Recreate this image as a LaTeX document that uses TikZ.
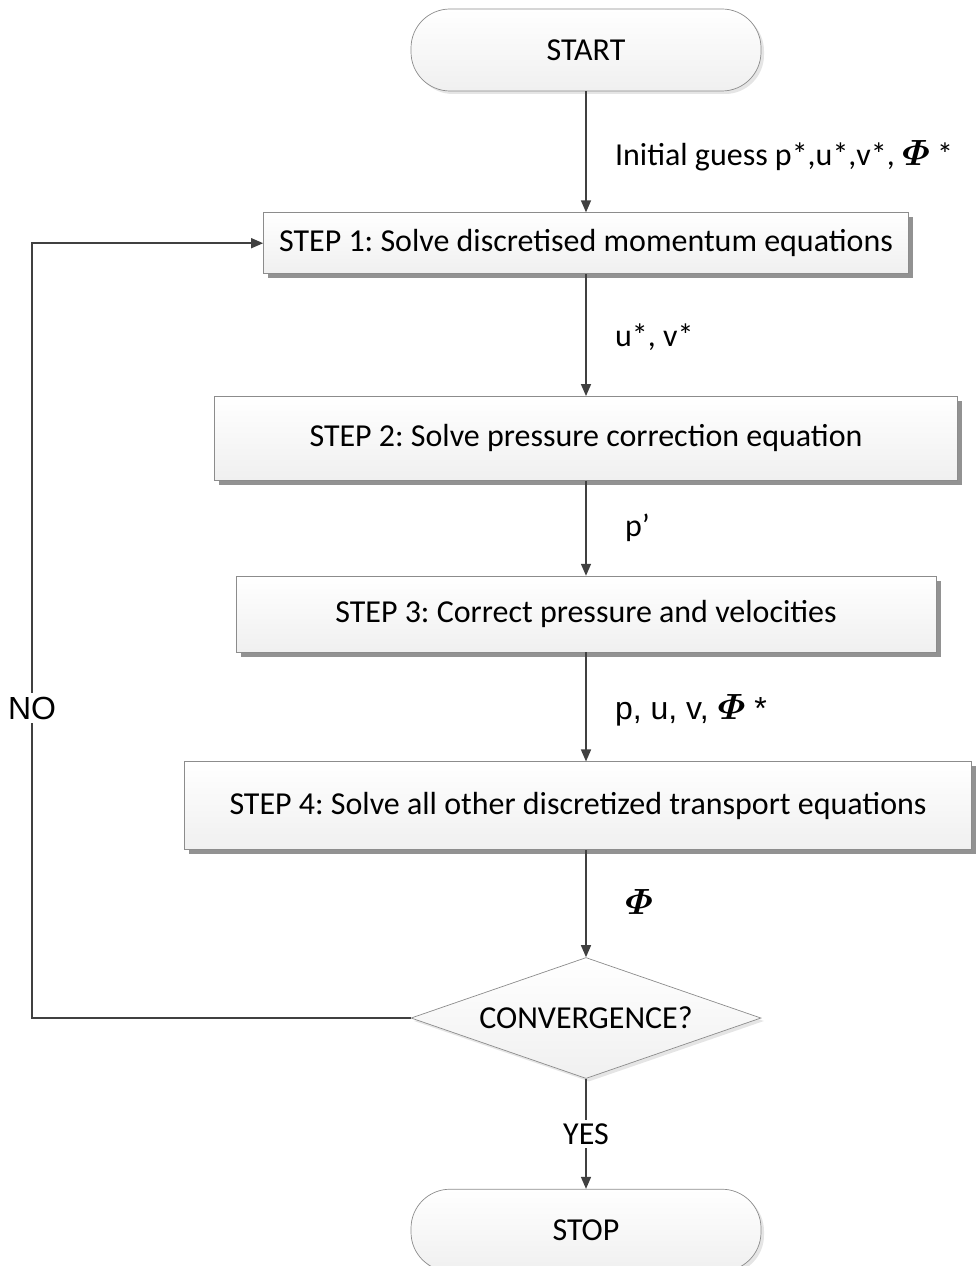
\documentclass[tikz,border=0pt]{standalone}
\usepackage{fontspec}
\usepackage{amsmath}
\setmainfont{Carlito}
\newfontfamily\arialfont{Liberation Sans}
\usetikzlibrary{shapes.geometric,arrows.meta,positioning,shadows}

\newcommand{\phisym}{{\fontsize{21}{21}\selectfont\boldmath$\varPhi$}}
\frenchspacing

\begin{document}
\begin{tikzpicture}[
    node distance=2cm,
    every node/.style={font=\fontsize{18.2}{21}\selectfont},
    terminal/.style={rectangle, draw=gray!90, rounded corners=0.78cm, minimum width=7cm, minimum height=1.64cm, top color=white, bottom color=gray!12, drop shadow={shadow xshift=0.06cm, shadow yshift=-0.06cm, fill=gray!40}},
    stage/.style={rectangle, draw=gray!90, top color=white, bottom color=gray!12, drop shadow={shadow xshift=0.09cm, shadow yshift=-0.09cm, fill=black!85}},
    decision/.style={diamond, draw=gray!90, aspect=2.9, inner sep=0pt, minimum width=7cm, minimum height=2.42cm, top color=white, bottom color=gray!12, drop shadow={shadow xshift=0.06cm, shadow yshift=-0.06cm, fill=gray!40}},
    arrow/.style={-{Triangle[length=0.24cm, width=0.2cm]}, draw=black!75, line width=0.85pt},
    lbl/.style={anchor=west, xshift=0.45cm},
    cut/.style={fill=white, inner sep=2pt}
]
\useasboundingbox (0,0) rectangle (19.5,-25.32);

% Start / stop
\node[terminal] (start) at (11.72,-1.0) {START};

% Steps of the loop
\node[stage, below=2.42cm of start, minimum width=12.9cm, minimum height=1.22cm] (step1) {STEP 1: Solve discretised momentum equations};
\node[stage, below=2.44cm of step1, minimum width=14.86cm, minimum height=1.68cm] (step2) {STEP 2: Solve pressure correction equation};
\node[stage, below=1.9cm of step2, minimum width=14cm, minimum height=1.52cm] (step3) {STEP 3: Correct pressure and velocities};
\node[stage, below=2.18cm of step3, xshift=-0.16cm, minimum width=15.74cm, minimum height=1.76cm] (step4) {STEP 4: Solve all other discretized transport equations};

% Convergence check
\node[decision, below=2.14cm of step4, xshift=0.16cm] (conv) {CONVERGENCE?};
\node[terminal, below=2.2cm of conv] (stop) {STOP};

% x position of the return line
\coordinate (back) at (0.64,0);

% Main flow
\draw[arrow] (start) -- node[lbl, pos=0.53] {Initial guess p*,u*,v*, \phisym\ *} (step1);
\draw[arrow] (step1) -- node[lbl, pos=0.52] {u*, v*} (step2);
\draw[arrow] (step2) -- node[lbl, pos=0.5, xshift=0.2cm] {p’} (step3);
\draw[arrow] (step3) -- node[lbl, pos=0.53] {\arialfont p, u, v, \phisym\ *} (step3 |- step4.north);
\draw[arrow] (conv |- step4.south) -- node[lbl, pos=0.48, xshift=0.2cm] {\phisym} (conv);
\draw[arrow] (conv) -- node[cut, pos=0.5] {YES} (stop);

% Not converged: back to step 1
\draw[arrow] (conv.west) -- (conv.west -| back) -- node[cut, pos=0.4] {\arialfont NO} (step1.west -| back) -- (step1.west);

\end{tikzpicture}
\end{document}
